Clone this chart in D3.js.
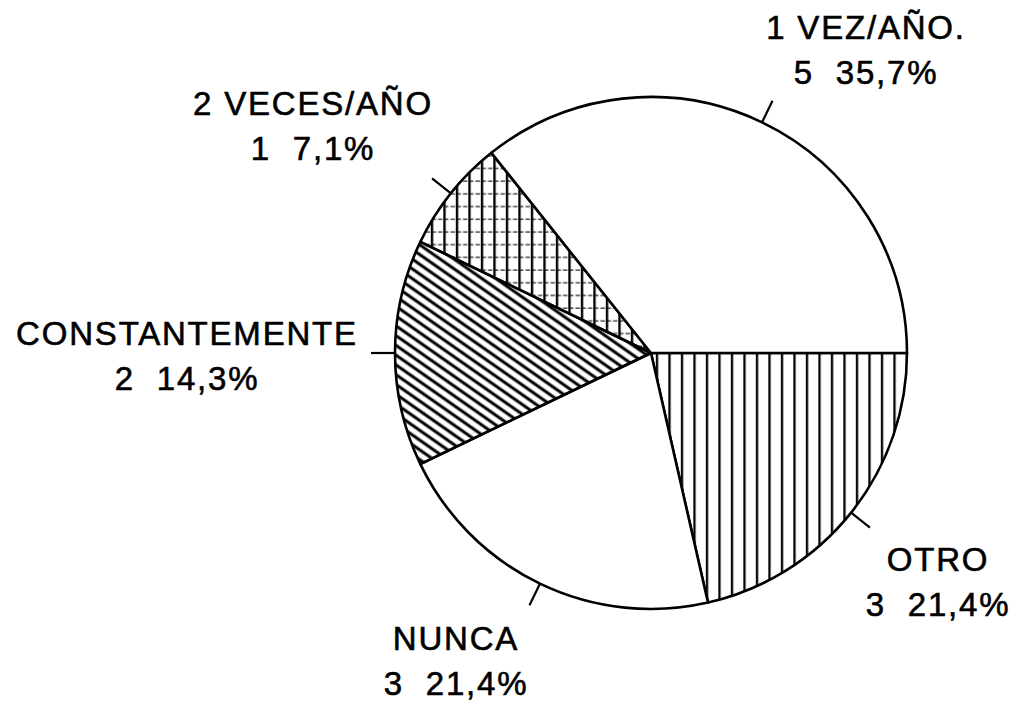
<!DOCTYPE html>
<html>
<head>
<meta charset="utf-8">
<script src="https://cdn.jsdelivr.net/npm/d3@7"></script>
<style>
  body { margin: 0; background: #fff; }
  text { font-family: "Liberation Sans", Arial, sans-serif; font-size: 33px; letter-spacing: 1.8px; fill: #000; stroke: #000; stroke-width: 0.6px; white-space: pre; }
</style>
</head>
<body>
<div id="chart"></div>
<script>
// data, in drawing order (clockwise from 3 o'clock)
var categories = ["OTRO", "NUNCA", "CONSTANTEMENTE", "2 VECES/AÑO", "1 VEZ/AÑO."];
var counts = [3, 3, 2, 1, 5];
var percents = ["21,4%", "21,4%", "14,3%", "7,1%", "35,7%"];

// which hatch each slice gets
var hatches = ["vert", "none", "diag", "cross", "none"];
// label anchor points (centre x, baseline of first line)
var labelPos = [[938, 571], [456, 650], [187, 345], [313, 115], [866, 39]];

var w = 1017, h = 704;
var cx = 651, cy = 353, radius = 256;

var svg = d3.select("#chart").append("svg")
    .attr("width", w)
    .attr("height", h);

var defs = svg.append("defs");

// vertical lines
var pv = defs.append("pattern").attr("id", "vert")
    .attr("patternUnits", "userSpaceOnUse")
    .attr("width", 12.5).attr("height", 12.5);
pv.append("line").attr("x1", 6).attr("x2", 6).attr("y1", 0).attr("y2", 12.5)
    .attr("stroke", "#000").attr("stroke-width", 2.3);

// diagonal lines going down to the right
var pd = defs.append("pattern").attr("id", "diag")
    .attr("patternUnits", "userSpaceOnUse")
    .attr("width", 10).attr("height", 8)
    .attr("patternTransform", "rotate(35)");
pd.append("line").attr("x1", 0).attr("x2", 10).attr("y1", 4).attr("y2", 4)
    .attr("stroke", "#000").attr("stroke-width", 3);

// grid: bold verticals, thin dashed horizontals
var pc = defs.append("pattern").attr("id", "cross")
    .attr("patternUnits", "userSpaceOnUse")
    .attr("width", 12.5).attr("height", 12.7);
pc.append("line").attr("x1", 0).attr("x2", 12.5).attr("y1", 6).attr("y2", 6)
    .attr("stroke", "#222").attr("stroke-width", 1.4)
    .attr("stroke-dasharray", "4,2");
pc.append("line").attr("x1", 6).attr("x2", 6).attr("y1", 0).attr("y2", 12.7)
    .attr("stroke", "#000").attr("stroke-width", 2.4);

var rows = categories.map(function (c, i) {
    return { name: c, count: counts[i], pct: percents[i], hatch: hatches[i], pos: labelPos[i] };
});

var pie = d3.pie()
    .sort(null)
    .value(function (d) { return d.count; })
    .startAngle(Math.PI / 2)
    .endAngle(Math.PI / 2 + 2 * Math.PI);

var arc = d3.arc().innerRadius(0).outerRadius(radius);

var g = svg.append("g").attr("transform", "translate(" + cx + "," + cy + ")");
var slices = pie(rows);

g.selectAll("path.slice")
    .data(slices)
    .enter().append("path")
    .attr("class", "slice")
    .attr("d", arc)
    .attr("fill", function (d) { return d.data.hatch == "none" ? "#fff" : "url(#" + d.data.hatch + ")"; })
    .attr("stroke", "#000")
    .attr("stroke-width", 2.6)
    .attr("stroke-linejoin", "round");

// little ticks pointing out from each slice
g.selectAll("line.tick")
    .data(slices)
    .enter().append("line")
    .attr("class", "tick")
    .attr("x1", function (d) { return radius * Math.sin((d.startAngle + d.endAngle) / 2); })
    .attr("y1", function (d) { return -radius * Math.cos((d.startAngle + d.endAngle) / 2); })
    .attr("x2", function (d) { return (radius + 24) * Math.sin((d.startAngle + d.endAngle) / 2); })
    .attr("y2", function (d) { return -(radius + 24) * Math.cos((d.startAngle + d.endAngle) / 2); })
    .attr("stroke", "#000")
    .attr("stroke-width", 2.2);

var labels = svg.selectAll("g.label")
    .data(rows)
    .enter().append("g")
    .attr("class", "label");

labels.append("text")
    .attr("x", function (d) { return d.pos[0]; })
    .attr("y", function (d) { return d.pos[1]; })
    .attr("text-anchor", "middle")
    .text(function (d) { return d.name; });

labels.append("text")
    .attr("x", function (d) { return d.pos[0]; })
    .attr("y", function (d) { return d.pos[1] + 45; })
    .attr("text-anchor", "middle")
    .text(function (d) { return d.count + "  " + d.pct; });
</script>
</body>
</html>
